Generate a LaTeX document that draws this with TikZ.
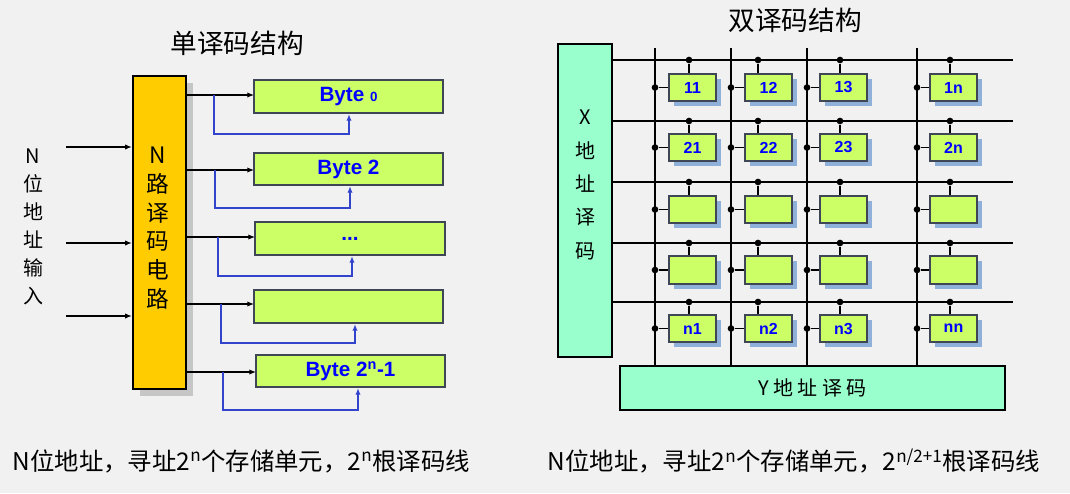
\documentclass[tikz,border=0pt]{standalone}
\usepackage{fontspec}
\setmainfont{Liberation Sans}
\newfontfamily\cjk{Noto Sans CJK SC}
\usetikzlibrary{fit,arrows.meta}
\definecolor{bg}{HTML}{F1F1F1}
\definecolor{yel}{HTML}{FFCC00}
\definecolor{grn}{HTML}{CCFF66}
\definecolor{bd}{HTML}{3F4656}
\definecolor{mint}{HTML}{99FFCC}
\definecolor{fbl}{HTML}{3344CC}
\definecolor{shd}{HTML}{8FB0D8}
\tikzset{
 box/.style={draw=bd,line width=1.6pt,fill=grn,inner sep=0pt,font=\bfseries\fontsize{15.5}{15.5}\selectfont,text=blue},
 cell/.style={draw=bd,line width=1.4pt,fill=grn,inner sep=0pt,font=\bfseries\fontsize{12}{12}\selectfont,text=blue},
 arr/.style={-{Latex[length=5pt,width=4pt]},line width=0.9pt},
 fb/.style={-{Latex[length=5pt,width=4pt]},line width=1pt,draw=fbl},
 cjkt/.style={align=center},
 dot/.style={circle,fill=black,inner sep=0pt,minimum size=5pt},
}
\begin{document}
\begin{tikzpicture}[x=0.75pt,y=-0.75pt]
\fill[bg] (0,0) rectangle (1070,493);
\useasboundingbox (0,0) rectangle (1070,493);
\node[font=\cjk\fontsize{20}{20}\selectfont] (t1) at (237,43) {单译码结构};
\node[font=\cjk\fontsize{20}{20}\selectfont] (t2) at (795,20) {双译码结构};
\node[font=\cjk\fontsize{18.3}{18.3}\selectfont,anchor=west] (bl) at (8,461) {N位地址，寻址2\textsuperscript{n}个存储单元，2\textsuperscript{n}根译码线};
\node[font=\cjk\fontsize{18.3}{18.3}\selectfont,anchor=west] (br) at (543,461) {N位地址，寻址2\textsuperscript{n}个存储单元，2\textsuperscript{n/2+1}根译码线};
% decoder
\fill[gray!45] (140,83) rectangle (193,396);
\coordinate (d1) at (133,76); \coordinate (d2) at (186,389);
\node[draw=black,line width=1.8pt,fill=yel,inner sep=0pt,fit=(d1)(d2)] (dec) {};
\node[cjkt,font=\cjk\fontsize{17}{21.5}\selectfont] (dect) at (158,228) {N\\路\\译\\码\\电\\路};
\node[cjkt,font=\cjk\fontsize{15}{21}\selectfont] (inl) at (33,227) {N\\位\\地\\址\\输\\入};
\foreach \y [count=\i] in {147,243,316}{
 \coordinate (in\i) at (66,\y);
 \draw[arr] (in\i) -- (dec.west |- in\i);
}
% byte boxes
\foreach \xa/\ya/\xb/\yb/\t/\ay/\fx/\fy/\ux [count=\i] in
 {254/80/443/113/{Byte {\fontsize{10}{10}\selectfont 0}}/95/214/134/349,
  254/153/443/185/{Byte 2}/170/215/208/350,
  255/222/445/255/{...}/237/218/276/352,
  254/290/443/323/{}/304/221/343/355,
  256/355/445/387/{Byte 2\textsuperscript{n}-1}/372/223/410/358}{
 \coordinate (a\i) at (\xa,\ya); \coordinate (b\i) at (\xb,\yb);
 \node[box,fit=(a\i)(b\i)] (B\i) {};
 \node[box,draw=none,fill=none] (L\i) at (B\i.center) {\t};
 \coordinate (s\i) at (dec.east |- 0,\ay);
 \coordinate (e\i) at (\xa,\ay);
 \draw[arr] (s\i) -- (e\i);
 \coordinate (f\i) at (\fx,\ay);
 \coordinate (g\i) at (\ux,\fy);
 \draw[fb] (f\i) |- (g\i) -- (g\i |- B\i.south);
}
% X / Y decoders
\coordinate (x1) at (558,44); \coordinate (x2) at (612,357);
\node[draw=black,line width=2.2pt,fill=mint,inner sep=0pt,fit=(x1)(x2)] (xd) {};
\node[cjkt,font=\cjk\fontsize{15}{25}\selectfont] (xdt) at (585,185) {X\\地\\址\\译\\码};
\coordinate (y1) at (620,366); \coordinate (y2) at (1005,410);
\node[draw=black,line width=2.2pt,fill=mint,inner sep=0pt,fit=(y1)(y2)] (yd) {};
\node[font=\cjk\fontsize{15}{15}\selectfont] (ydt) at (yd.center) {Y 地 址 译 码};
% grid lines
\foreach \ry [count=\r] in {60,121,182,243,302}{
 \coordinate (r\r) at (1013,\ry);
 \draw[line width=1.2pt] (xd.east |- r\r) -- (r\r);
}
\foreach \cx [count=\c] in {655,731,807,917}{
 \coordinate (c\c) at (\cx,48);
 \draw[line width=1.2pt] (c\c) -- (c\c |- yd.north);
}
% cells
\foreach \ya/\yb/\ry [count=\r] in {74/101/60,134/161/121,196/223/182,256/284/243,315/342/302}{
 \foreach \xa/\xb/\cx/\sx [count=\c] in {669/716/655/689,745/792/731/758,820/867/807/840,930/977/917/950}{
  \fill[shd] (\xa+5,\ya+5) rectangle (\xb+5,\yb+5);
  \coordinate (p\r\c) at (\xa,\ya); \coordinate (q\r\c) at (\xb,\yb);
  \node[cell,fit=(p\r\c)(q\r\c)] (C\r\c) {};
  \node[dot] (v\r\c) at (\sx,\ry) {};
  \node[dot] (h\r\c) at (\cx,\ya/2+\yb/2) {};
  \draw[line width=1.2pt] (v\r\c) -- (v\r\c |- C\r\c.north);
  \draw[line width=1.2pt] (h\r\c) -- (C\r\c.west |- h\r\c);
 }
}
\foreach \r/\a/\b/\cc/\d in {1/11/12/13/1n,2/21/22/23/2n,5/n1/n2/n3/nn}{
 \node[cell,draw=none,fill=none] at (C\r1.center) {\a};
 \node[cell,draw=none,fill=none] at (C\r2.center) {\b};
 \node[cell,draw=none,fill=none] at (C\r3.center) {\cc};
 \node[cell,draw=none,fill=none] at (C\r4.center) {\d};
}
\end{tikzpicture}
\end{document}
